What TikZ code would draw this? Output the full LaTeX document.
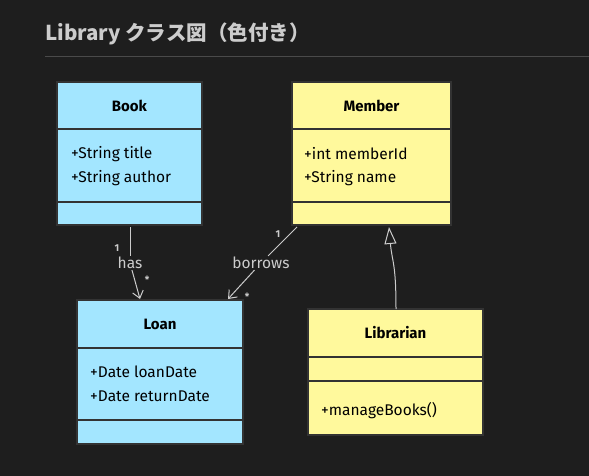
\documentclass[tikz,border=0pt]{standalone}
\usepackage{fontspec}
\setmainfont{Fira Sans}
\newfontfamily\jpfont{Noto Sans CJK JP}
\usetikzlibrary{arrows.meta,positioning}
\definecolor{bgdark}{HTML}{1E1E1E}
\definecolor{boxline}{HTML}{333333}
\definecolor{clsblue}{HTML}{A3E6FF}
\definecolor{clsyellow}{HTML}{FFF99C}
\definecolor{linegrey}{HTML}{CCCCCC}
\definecolor{rulegrey}{HTML}{4A4A4A}
\tikzset{
part/.style = {rectangle, draw=boxline, line width=2pt, fill=#1,
               inner sep=0pt, outer sep=0pt, text=black,
               font=\fontsize{15}{17}\selectfont\bfseries},
part/.default = clsblue,
attr/.style = {anchor=west, inner sep=0pt, text=black,
               font=\fontsize{15.5}{17}\selectfont},
lbl/.style = {text=linegrey, inner sep=1pt,
              font=\fontsize{15.5}{17}\selectfont},
mult/.style = {text=linegrey, inner sep=0pt,
               font=\fontsize{10}{11}\selectfont\bfseries},
assoc/.style = {draw=linegrey, line width=1pt},
gen/.style = {draw=linegrey, line width=1pt,
              -{Triangle[open, length=17pt, width=12pt, fill=bgdark]}}
}
\begin{document}
\begin{tikzpicture}[x=1pt,y=-1pt]
\useasboundingbox[fill=bgdark] (0,0) rectangle (589,476);

% title
\node[anchor=west, inner sep=0pt, text=linegrey,
      font=\jpfont\fontsize{20.5}{23}\selectfont\bfseries] (title) at (45,34) {Library クラス図（色付き）};
\coordinate (ruleL) at (45,57);
\coordinate (ruleR) at (589,57);
\draw[rulegrey, line width=1pt] (ruleL) -- (ruleR);

% Book
\node[part, minimum width=145pt, minimum height=47pt] (bookA) at (129.5,105.5) {Book};
\node[part, minimum width=145pt, minimum height=73pt, below=0pt of bookA] (bookB) {};
\node[part, minimum width=145pt, minimum height=23pt, below=0pt of bookB] (bookC) {};
\node[attr] (bookT) at (71,154) {+String title};
\node[attr] (bookU) at (71,178) {+String author};

% Member
\node[part=clsyellow, minimum width=159pt, minimum height=47pt] (memA) at (371.5,105.5) {Member};
\node[part=clsyellow, minimum width=159pt, minimum height=73pt, below=0pt of memA] (memB) {};
\node[part=clsyellow, minimum width=159pt, minimum height=23pt, below=0pt of memB] (memC) {};
\node[attr] (memI) at (304,154) {+int memberId};
\node[attr] (memN) at (304,178) {+String name};

% Loan
\node[part, minimum width=166pt, minimum height=48pt] (loanA) at (160,324) {Loan};
\node[part, minimum width=166pt, minimum height=72pt, below=0pt of loanA] (loanB) {};
\node[part, minimum width=166pt, minimum height=24pt, below=0pt of loanB] (loanC) {};
\node[attr] (loanD) at (90,372) {+Date loanDate};
\node[attr] (loanR) at (90,396) {+Date returnDate};

% Librarian
\node[part=clsyellow, minimum width=175pt, minimum height=48pt] (libA) at (395.5,333) {Librarian};
\node[part=clsyellow, minimum width=175pt, minimum height=24pt, below=0pt of libA] (libB) {};
\node[part=clsyellow, minimum width=175pt, minimum height=54pt, below=0pt of libB] (libC) {};
\node[attr] (libM) at (321,411) {+manageBooks()};

% has
\node[lbl] (has) at (130,263) {has};
\coordinate (hasS) at (130,227);
\coordinate (hasE) at (140,299);
\draw[assoc] (hasS) -- (has);
\draw[assoc, -{Straight Barb[length=7pt, width=11pt]}] (has) -- (hasE);
\node[mult] (has1) at (117,248) {1};
\node[mult] (hasN) at (147,280) {*};

% borrows
\node[lbl] (borrows) at (261,263) {borrows};
\coordinate (borS) at (297,227);
\coordinate (borE) at (228,299);
\draw[assoc] (borS) -- (borrows);
\draw[assoc, -{Straight Barb[length=7pt, width=11pt]}] (borrows) -- (borE);
\node[mult] (bor1) at (278,234) {1};
\node[mult] (borN) at (247,297) {*};

% Librarian extends Member
\coordinate (genS) at (396,309);
\coordinate (genE) at (389,227);
\draw[gen] (genS) .. controls (396,262) and (392,262) .. (genE);
\end{tikzpicture}
\end{document}
